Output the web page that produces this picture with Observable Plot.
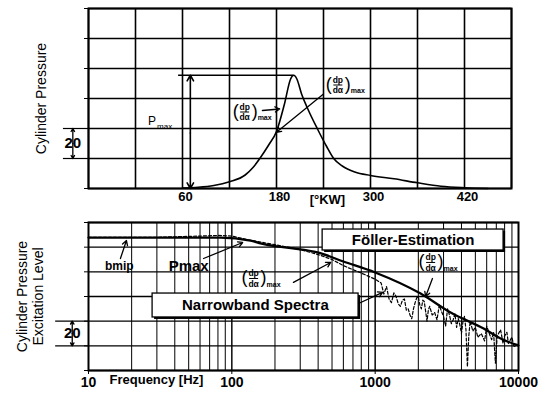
<!DOCTYPE html>
<html><head><meta charset="utf-8">
<script src="https://cdn.jsdelivr.net/npm/d3@7"></script>
<script src="https://cdn.jsdelivr.net/npm/@observablehq/plot@0.6"></script>
<style>
body{margin:0;background:#fff;}
#chart{position:relative;width:547px;height:396px;background:#fff;}
#chart svg{display:block;}
</style></head><body><div id="chart"></div>
<script>
const FONT = '"Liberation Sans", Arial, Helvetica, sans-serif';

// ---------- Top panel: cylinder pressure vs crank angle ----------
const crankAngle = [60, 80, 100, 120, 140, 150, 160, 170, 180, 190, 198, 202, 206, 212, 220, 232, 244, 253, 264, 280, 300, 330, 360, 390, 420, 450];
const pressure   = [0.3, 0.8, 2, 4.5, 9, 14, 21, 29, 38, 56, 73, 75.5, 73, 63, 53, 40, 28, 20, 15, 11, 8.7, 6.5, 3.8, 1.5, 0.5, 0];
const angleGrid  = [-60, 0, 60, 120, 180, 240, 300, 360, 420, 480];
const angleTicks = [60, 180, 300, 420];
const levelGrid  = [0, 20, 40, 60, 80, 100, 120];
const pmaxAngle = 202, pmaxValue = 75.5;

// ---------- Bottom panel: excitation spectrum ----------
const follerHz    = [10, 83, 135, 158, 250, 396, 600, 1000, 2075, 3360, 5710, 7500, 10000];
const follerLevel = [107.8, 107.8, 105.4, 103, 99.4, 95.7, 88.4, 79.5, 62.4, 47, 34, 26, 20.3];
const spectraHz    = [10, 30, 60, 80, 100, 130, 200, 300, 400, 500, 600, 800, 1000, 1100, 1150, 1200, 1250, 1300, 1350, 1400, 1450, 1500, 1550, 1600, 1650, 1700, 1750, 1800, 1850, 1900, 1950, 2000, 2050, 2100, 2150, 2200, 2300, 2350, 2400, 2500, 2600, 2700, 2800, 2900, 3000, 3100, 3200, 3300, 3400, 3500, 3600, 3700, 3800, 3900, 4000, 4100, 4200, 4300, 4400, 4500, 4600, 4800, 5000, 5200, 5500, 5800, 6000, 6300, 6500, 6700, 6900, 7100, 7500, 7800, 8000, 8300, 8500, 8800, 9000, 9300, 9500];
const spectraLevel = [108, 108, 109, 109.5, 109, 106, 102, 98, 94, 90, 85, 79, 74, 71, 62, 68, 58, 55, 63, 60, 54, 52, 57, 58, 49, 50, 45, 42, 50, 55, 59, 60, 53, 50, 57, 56, 40, 49, 52, 45, 47, 41, 53, 48, 44, 36, 50, 45, 38, 41, 46, 35, 42, 37, 30, 40, 44, 33, 3, 28, 40, 32, 35, 27, 30, 24, 36, 29, 25, 31, 6, 28, 33, 22, 28, 31, 22, 25, 27, 19, 20];
const freqTicks = [10, 100, 1000, 10000];
const freqGrid = [];
for (const dec of [10, 100, 1000]) for (let k = 1; k <= 10; k++) freqGrid.push(dec * k);

const rowsTop = crankAngle.map((a, i) => ({a, p: pressure[i]}));
const rowsFoller = follerHz.map((f, i) => ({f, v: follerLevel[i]}));
const rowsSpectra = spectraHz.map((f, i) => ({f, v: spectraLevel[i]}));

// fraction label "(dp/dα)max" anchored at left-middle; shift(x, px) moves x by px pixels in data units
function fracLabel(x, y, shift) {
  const d = [{x, y}];
  const b = {x: "x", y: "y", fill: "#000", fontFamily: FONT};
  return [
    Plot.text(d, {...b, text: () => "(", textAnchor: "start", fontSize: 18, dx: 0, dy: -1}),
    Plot.text(d, {...b, text: () => "dp", textAnchor: "middle", fontSize: 8.5, fontWeight: "bold", dx: 12, dy: -5}),
    Plot.ruleY(d, {y: "y", x1: d => shift(d.x, 8), x2: d => shift(d.x, 17), stroke: "#000", strokeWidth: 1}),
    Plot.text(d, {...b, text: () => "d\u03b1", textAnchor: "middle", fontSize: 8.5, fontWeight: "bold", dx: 12, dy: 5.5}),
    Plot.text(d, {...b, text: () => ")", textAnchor: "start", fontSize: 18, dx: 19, dy: -1}),
    Plot.text(d, {...b, text: () => "max", textAnchor: "start", fontSize: 7, fontWeight: "bold", dx: 25, dy: 6})
  ];
}
const shiftLin = (x, px) => x + px * 60 / 47;
const shiftLog = (x, px) => x * Math.pow(10, px / 143.3);
const arrowStyle = {stroke: "#000", strokeWidth: 1.3, headLength: 6};

const topPlot = Plot.plot({
  width: 547, height: 210,
  marginLeft: 88, marginRight: 36, marginTop: 8, marginBottom: 22,
  x: {domain: [-60, 480]},
  y: {domain: [0, 120]},
  style: {fontFamily: FONT, color: "#000", background: "transparent", overflow: "visible"},
  marks: [
    Plot.ruleX(angleGrid, {stroke: "#000", strokeWidth: 1.6}),
    Plot.ruleY(levelGrid, {stroke: "#000", strokeWidth: 1.6}),
    Plot.axisX({ticks: angleTicks, tickSize: 0, tickPadding: 3, fontSize: 13, fontWeight: "bold", label: null, dx: 3}),
    Plot.axisY({ticks: levelGrid, tickSize: 4, tickFormat: () => "", label: null}),
    Plot.text(["[\u00b0KW]"], {text: d => d, x: () => 245, frameAnchor: "bottom", dy: 15, fontSize: 13, fontWeight: "bold"}),
    Plot.text(["Cylinder Pressure"], {text: d => d, frameAnchor: "left", textAnchor: "middle", dx: -47, rotate: -90, fontSize: 14}),
    Plot.line(rowsTop, {x: "a", y: "p", stroke: "#000", strokeWidth: 1.6, curve: "monotone-x"}),
    // Pmax marker
    Plot.ruleY([{v: pmaxValue}], {y: "v", x1: 55, x2: pmaxAngle, stroke: "#000", strokeWidth: 1.6}),
    Plot.arrow([{}], {x1: 70, x2: 70, y1: 37, y2: pmaxValue, ...arrowStyle, strokeWidth: 1.6}),
    Plot.arrow([{}], {x1: 70, x2: 70, y1: 37, y2: 0, ...arrowStyle, strokeWidth: 1.6}),
    Plot.text([{x: 16, y: 45}], {x: "x", y: "y", text: () => "P", textAnchor: "start", fontSize: 12}),
    Plot.text([{x: 16, y: 45}], {x: "x", y: "y", text: () => "max", textAnchor: "start", fontSize: 8, dx: 9, dy: 5}),
    // dp/dα annotations
    ...fracLabel(124, 51, shiftLin),
    Plot.arrow([{}], {x1: 162, y1: 52, x2: 184, y2: 53, ...arrowStyle}),
    ...fracLabel(243, 69, shiftLin),
    Plot.arrow([{}], {x1: 240, y1: 63, x2: 180, y2: 37.5, ...arrowStyle}),
    // 20 scale bracket
    Plot.ruleY([20, 40], {x1: -92, x2: -60, stroke: "#000", strokeWidth: 1.2}),
    Plot.arrow([{}], {x1: -80, x2: -80, y1: 30, y2: 40, ...arrowStyle, headLength: 4}),
    Plot.arrow([{}], {x1: -80, x2: -80, y1: 30, y2: 20, ...arrowStyle, headLength: 4}),
    Plot.text([{x: -80, y: 30}], {x: "x", y: "y", text: () => "20", fontSize: 15, fontWeight: "bold"}),
    Plot.frame({stroke: "#000", strokeWidth: 2})
  ]
});

const botPlot = Plot.plot({
  width: 547, height: 186,
  marginLeft: 88, marginRight: 29, marginTop: 12, marginBottom: 26,
  x: {type: "log", domain: [10, 10000]},
  y: {domain: [0, 120]},
  style: {fontFamily: FONT, color: "#000", background: "transparent", overflow: "visible"},
  marks: [
    Plot.ruleX(freqGrid, {stroke: "#000", strokeWidth: 1}),
    Plot.ruleY(levelGrid, {stroke: "#000", strokeWidth: 1.3}),
    Plot.axisX({ticks: freqTicks, tickSize: 4, tickPadding: 3, fontSize: 14, fontWeight: "bold", tickFormat: d => String(d), label: null}),
    Plot.axisY({ticks: levelGrid, tickSize: 4, tickFormat: () => "", label: null}),
    Plot.text(["Frequency [Hz]"], {text: d => d, x: () => 29.8, frameAnchor: "bottom", dy: 13, fontSize: 13, fontWeight: "bold"}),
    Plot.text(["Cylinder Pressure\nExcitation Level"], {text: d => d, frameAnchor: "left", textAnchor: "middle", dx: -59, rotate: -90, fontSize: 14, lineHeight: 1.15}),
    Plot.line(rowsSpectra, {x: "f", y: "v", stroke: "#000", strokeWidth: 1.2, strokeDasharray: "3,2"}),
    Plot.line(rowsFoller, {x: "f", y: "v", stroke: "#000", strokeWidth: 2.3, curve: "monotone-x"}),
    // boxes
    Plot.rect([{x1: 430, x2: 7870, y1: 97.3, y2: 114.3}], {x1: "x1", x2: "x2", y1: "y1", y2: "y2", fill: "#000", dx: 2, dy: 2}),
    Plot.rect([{x1: 430, x2: 7870, y1: 97.3, y2: 114.3}], {x1: "x1", x2: "x2", y1: "y1", y2: "y2", fill: "#fff", stroke: "#000", strokeWidth: 1.3}),
    Plot.text([{x: 1840, y: 105.8}], {x: "x", y: "y", text: () => "F\u00f6ller-Estimation", fontSize: 15, fontWeight: "bold"}),
    Plot.rect([{x1: 28, x2: 766, y1: 43, y2: 62.4}], {x1: "x1", x2: "x2", y1: "y1", y2: "y2", fill: "#000", dx: 2, dy: 2}),
    Plot.rect([{x1: 28, x2: 766, y1: 43, y2: 62.4}], {x1: "x1", x2: "x2", y1: "y1", y2: "y2", fill: "#fff", stroke: "#000", strokeWidth: 1.3}),
    Plot.text([{x: 146, y: 52.7}], {x: "x", y: "y", text: () => "Narrowband Spectra", fontSize: 15, fontWeight: "bold"}),
    Plot.arrow([{}], {x1: 766, y1: 54.3, x2: 1127, y2: 63.3, ...arrowStyle}),
    // labels
    Plot.text([{x: 16.4, y: 84.3}], {x: "x", y: "y", text: () => "bmip", fontSize: 12, fontWeight: "bold"}),
    Plot.arrow([{}], {x1: 16.7, y1: 90.8, x2: 18.4, y2: 105.4, ...arrowStyle}),
    Plot.text([{x: 50, y: 84.3}], {x: "x", y: "y", text: () => "Pmax", fontSize: 15, fontWeight: "bold"}),
    Plot.arrow([{}], {x1: 63.5, y1: 90.8, x2: 119, y2: 103.8, ...arrowStyle}),
    ...fracLabel(117, 74.6, shiftLog),
    Plot.arrow([{}], {x1: 269, y1: 71.4, x2: 489, y2: 87.6, ...arrowStyle}),
    ...fracLabel(2010, 87.6, shiftLog),
    Plot.arrow([{}], {x1: 2510, y1: 74.6, x2: 2250, y2: 60, ...arrowStyle}),
    // 20 scale bracket
    Plot.ruleY([20, 40], {x1: 5.9, x2: 10, stroke: "#000", strokeWidth: 1.2}),
    Plot.arrow([{}], {x1: 7.7, x2: 7.7, y1: 30, y2: 40, ...arrowStyle, headLength: 4}),
    Plot.arrow([{}], {x1: 7.7, x2: 7.7, y1: 30, y2: 20, ...arrowStyle, headLength: 4}),
    Plot.text([{x: 7.7, y: 30}], {x: "x", y: "y", text: () => "20", fontSize: 15, fontWeight: "bold"}),
    Plot.frame({stroke: "#000", strokeWidth: 2})
  ]
});

const root = document.getElementById("chart");
root.appendChild(topPlot);
root.appendChild(botPlot);
</script>
</body></html>
